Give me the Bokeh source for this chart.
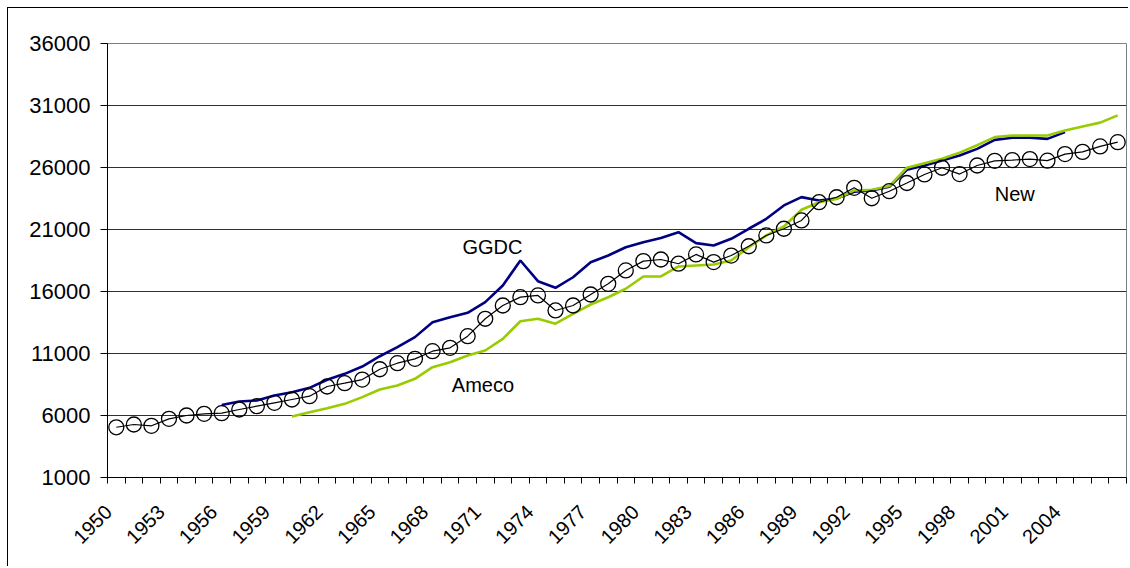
import math
from bokeh.plotting import figure
from bokeh.models import FixedTicker, Range1d
from bokeh.core.properties import value
from bokeh.embed import file_html
from bokeh.resources import INLINE

years = list(range(1950, 2008))

new_values = [5050, 5275, 5170, 5730, 6000, 6135, 6190, 6485, 6750, 7020,
              7290, 7560, 8340, 8605, 8900, 9730, 10218, 10570, 11186, 11460,
              12400, 13800, 14870, 15545, 15680, 14470, 14870, 15760, 16620, 17700,
              18450, 18580, 18240, 18990, 18370, 18900, 19650, 20520, 21060, 21730,
              23200, 23600, 24360, 23520, 24090, 24750, 25440, 25980, 25470, 26160,
              26540, 26600, 26680, 26550, 27080, 27260, 27700, 28040]

ggdc_years = list(range(1956, 2005))
ggdc_values = [6850, 7130, 7210, 7610,
               7880, 8230, 8880, 9360, 9950, 10780, 11510, 12320, 13520, 13930,
               14280, 15140, 16480, 18500, 16830, 16300, 17150, 18360, 18900, 19570,
               19980, 20320, 20780, 19900, 19710, 20250, 21060, 21860, 22940, 23610,
               23340, 23500, 24050, 24150, 24450, 25820, 26160, 26570, 26970, 27500,
               28230, 28400, 28400, 28310, 28850]

ameco_years = list(range(1960, 2008))
ameco_values = [5920, 6270, 6590, 6940, 7480, 8100, 8420, 8960, 9900, 10300,
                10840, 11240, 12180, 13600, 13800, 13400, 14200, 14950, 15540, 16220,
                17210, 17210, 18020, 18100, 18180, 18500, 19570, 20520, 21240, 22590,
                23200, 23470, 24150, 24200, 24500, 25980, 26350, 26700, 27200, 27800,
                28450, 28580, 28580, 28580, 28990, 29310, 29620, 30200]

y_ticks = [1000, 6000, 11000, 16000, 21000, 26000, 31000, 36000]
x_label_years = list(range(1950, 2005, 3))

series_labels = ["GGDC", "Ameco", "New"]
label_x = [1969.7, 1969.1, 2000.0]
label_y = [19550, 8420, 23900]

FONT = "Liberation Sans"
LABEL_SHIFT = 0.45  # rotated labels sit slightly left of their category

p = figure(width=1121, height=559, output_backend="svg", toolbar_location=None,
           x_range=Range1d(years[0] - 0.5, years[-1] + 0.5),
           y_range=Range1d(y_ticks[0], y_ticks[-1]),
           min_border_left=99, min_border_right=3, min_border_top=35, min_border_bottom=90)
p.styles = {"margin-left": "7px", "margin-top": "7px",
            "border-left": "1px solid black", "border-top": "1px solid black"}
p.background_fill_color = "white"
p.border_fill_color = "white"
p.outline_line_color = "#808080"
p.outline_line_width = 1

# y axis
p.yaxis.ticker = FixedTicker(ticks=y_ticks)
p.yaxis.axis_line_color = "black"
p.yaxis.major_tick_line_color = "black"
p.yaxis.major_tick_out = 7
p.yaxis.major_tick_in = 0
p.yaxis.minor_tick_line_color = None
p.yaxis.major_label_text_font = FONT
p.yaxis.major_label_text_font_size = "22px"
p.yaxis.major_label_text_color = "black"
p.yaxis.major_label_standoff = 10
p.ygrid.grid_line_color = "#303030"
p.ygrid.grid_line_width = 1

# x axis: ticks between categories, labels every 3 years
label_pos = [round(y - LABEL_SHIFT, 2) for y in x_label_years]
p.xaxis.ticker = FixedTicker(ticks=label_pos,
                             minor_ticks=[y - 0.5 for y in years] + [years[-1] + 0.5])
p.xaxis.axis_line_color = "black"
p.xaxis.major_tick_line_color = None
p.xaxis.minor_tick_line_color = "black"
p.xaxis.minor_tick_out = 6
p.xaxis.minor_tick_in = 0
p.xaxis.major_label_orientation = math.pi / 4
p.xaxis.major_label_text_font = FONT
p.xaxis.major_label_text_font_size = "20px"
p.xaxis.major_label_text_color = "black"
p.xaxis.major_label_standoff = 25
p.xaxis.major_label_overrides = {pos: str(y) for pos, y in zip(label_pos, x_label_years)}
p.xgrid.grid_line_color = None

p.line(ggdc_years, ggdc_values, line_color="#000080", line_width=2.6)
p.line(ameco_years, ameco_values, line_color="#99CC00", line_width=2.6)
p.line(years, new_values, line_color="black", line_width=1.2)
p.scatter(years, new_values, marker="circle", size=15, fill_color=None,
          line_color="black", line_width=1.3)

p.text(x=label_x, y=label_y, text=series_labels, text_font=value(FONT),
       text_font_size="20px", text_color="black", text_baseline="alphabetic",
       text_align="left")

open("out.html", "w").write(file_html(p, INLINE))
